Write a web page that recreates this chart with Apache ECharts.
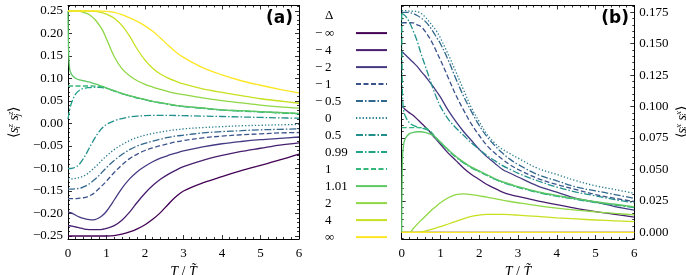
<!DOCTYPE html>
<html><head><meta charset="utf-8">
<script src="https://cdn.jsdelivr.net/npm/echarts@6/dist/echarts.min.js"></script>
<style>html,body{margin:0;padding:0;background:#fff}#c{width:686px;height:275px}</style>
</head><body><div id="c"></div>
<script>
// ---------- data ----------
const T = [0,0.02,0.05,0.1,0.2,0.3,0.4,0.5,0.6,0.7,0.8,0.9,1.0,1.2,1.4,1.6,1.8,2.0,2.2,2.4,2.6,2.8,3.0,3.5,4.0,4.5,5.0,5.5,6.0];
const deltaLabels = ['−∞','−4','−2','−1','−0.5','0','0.5','0.99','1','1.01','2','4','∞'];

// panel (a): <s^z_i s^z_j>
const zz_minf = [-.25,-.25,-.25,-.25,-.25,-.25,-.25,-.25,-.25,-.25,-.25,-.25,-.25,-.249,-.246,-.241,-.234,-.225,-.213,-.198,-.180,-.163,-.150,-.132,-.118,-.105,-.093,-.081,-.068];
const zz_m4 = [-.227,-.227,-.2272,-.228,-.230,-.232,-.234,-.2355,-.236,-.236,-.236,-.235,-.233,-.227,-.215,-.197,-.175,-.155,-.138,-.124,-.113,-.104,-.096,-.082,-.071,-.062,-.055,-.048,-.043];
const zz_m2 = [-.197,-.197,-.198,-.199,-.204,-.208,-.211,-.213,-.214,-.2135,-.210,-.204,-.195,-.170,-.144,-.123,-.107,-.095,-.085,-.077,-.071,-.066,-.061,-.052,-.045,-.040,-.036,-.033,-.030];
const zz_m1 = [-.167,-.167,-.167,-.167,-.167,-.166,-.165,-.163,-.159,-.153,-.145,-.137,-.128,-.109,-.092,-.078,-.068,-.060,-.054,-.049,-.045,-.041,-.038,-.032,-.028,-.025,-.023,-.021,-.020];
const zz_m05 = [-.146,-.146,-.146,-.146,-.145,-.144,-.141,-.137,-.131,-.124,-.116,-.107,-.098,-.082,-.069,-.058,-.050,-.044,-.039,-.035,-.031,-.028,-.026,-.021,-.018,-.016,-.014,-.013,-.012];
const zz_0 = [-.123,-.123,-.123,-.123,-.122,-.120,-.117,-.112,-.105,-.097,-.089,-.080,-.072,-.058,-.047,-.038,-.031,-.026,-.022,-.019,-.016,-.014,-.012,-.009,-.007,-.005,-.004,-.003,-.002];
const zz_05 = [-.100,-.100,-.100,-.0995,-.097,-.090,-.078,-.063,-.047,-.032,-.019,-.009,-.002,.006,.011,.0145,.0165,.0175,.018,.018,.018,.0178,.0175,.0165,.0155,.0145,.0135,.0125,.0118];
const zz_099 = [.010,.020,.033,.048,.066,.074,.078,.0795,.080,.0805,.0805,.080,.0781,.0721,.0661,.0611,.0566,.0526,.0486,.0456,.0426,.0396,.0376,.0336,.0296,.0276,.0256,.0236,.0216];
const zz_1 = [.0833,.0833,.0833,.0833,.0833,.0833,.0833,.0833,.0833,.0832,.083,.0813,.0785,.0725,.0665,.0615,.057,.053,.049,.046,.043,.040,.038,.034,.030,.028,.026,.024,.022];
const zz_101 = [.25,.15,.118,.108,.100,.097,.095,.093,.091,.088,.0855,.0825,.0789,.0729,.0669,.0619,.0574,.0534,.0494,.0464,.0434,.0404,.0384,.0344,.0304,.0284,.0264,.0244,.0224];
const zz_2 = [.25,.25,.25,.25,.2495,.249,.247,.244,.239,.231,.220,.207,.188,.149,.122,.106,.095,.087,.081,.076,.071,.067,.064,.057,.051,.046,.041,.037,.034];
const zz_4 = [.25,.25,.25,.25,.25,.25,.25,.25,.2495,.249,.248,.246,.243,.234,.218,.194,.165,.141,.123,.110,.101,.094,.088,.077,.069,.062,.055,.050,.045];
const zz_inf = [.25,.25,.25,.25,.25,.25,.25,.25,.25,.25,.25,.2495,.249,.247,.242,.235,.227,.217,.205,.190,.174,.159,.147,.124,.108,.095,.085,.076,.068];

// panel (b): <s^x_i s^x_j>
const xx_minf = [0,0,0,0,0,0,0,0,0,0,0,0,0,0,0,0,0,0,0,0,0,0,0,0,0,0,0,0,0];
const xx_m4 = [.1005,.1,.099,.0975,.095,.093,.090,.087,.084,.081,.077,.0735,.070,.063,.057,.051,.046,.042,.038,.035,.032,.030,.0285,.025,.022,.019,.0165,.0143,.012];
const xx_m2 = [.1437,.1432,.1425,.141,.138,.135,.132,.128,.1245,.1205,.1165,.112,.1075,.097,.088,.080,.073,.066,.060,.055,.050,.047,.044,.037,.032,.027,.024,.0205,.0177];
const xx_m1 = [.1667,.1667,.1667,.1667,.1667,.1665,.165,.1636,.160,.1555,.150,.1435,.137,.123,.109,.097,.086,.077,.069,.063,.058,.0535,.050,.043,.038,.034,.030,.027,.0245];
const xx_m05 = [.175,.175,.175,.175,.1748,.174,.1725,.1705,.168,.1645,.160,.155,.150,.137,.122,.108,.096,.085,.076,.069,.063,.058,.054,.046,.041,.036,.033,.030,.027];
const xx_0 = [.1763,.1763,.1763,.1763,.176,.1758,.1755,.174,.1715,.168,.164,.160,.1545,.1415,.1275,.113,.099,.088,.078,.071,.066,.0625,.059,.051,.046,.041,.037,.034,.031];
const xx_05 = [.174,.1738,.1732,.172,.167,.160,.152,.142,.133,.124,.115,.107,.100,.090,.083,.077,.071,.066,.061,.057,.053,.050,.047,.041,.036,.032,.029,.026,.0235];
const xx_099 = [.174,.11,.097,.092,.087,.085,.0838,.083,.0822,.0808,.078,.0742,.0712,.0652,.0597,.0552,.0512,.0482,.0452,.0422,.0397,.0377,.0357,.0317,.0287,.0262,.0237,.0217,.0197];
const xx_1 = [.0833,.0833,.0833,.0833,.0833,.0833,.0833,.0833,.083,.0815,.0785,.0745,.0715,.0655,.060,.0555,.0515,.0485,.0455,.0425,.040,.038,.036,.032,.029,.0265,.024,.022,.020];
const xx_101 = [0,.058,.070,.075,.0785,.0795,.080,.080,.0795,.0785,.0772,.0748,.0718,.0658,.0603,.0558,.0518,.0488,.0458,.0428,.0403,.0383,.0363,.0323,.0293,.0268,.0243,.0223,.0203];
const xx_2 = [0,0,0,0,0,.003,.0065,.0095,.0125,.0155,.0185,.021,.0235,.0275,.030,.0305,.030,.029,.028,.0268,.0256,.0245,.0235,.0212,.0192,.0176,.0163,.015,.0139];
const xx_4 = [0,0,0,0,0,0,0,.0004,.001,.0018,.0027,.0036,.0046,.0066,.0087,.0108,.0126,.0137,.0142,.0143,.0142,.014,.0136,.0126,.0115,.0106,.0098,.0091,.0085];
const xx_inf = [0,0,0,0,0,0,0,0,0,0,0,0,0,0,0,0,0,0,0,0,0,0,0,0,0,0,0,0,0];

const xTicks = [0,1,2,3,4,5,6];
const yTicksA = [-0.25,-0.20,-0.15,-0.10,-0.05,0,0.05,0.10,0.15,0.20,0.25];
const yTicksB = [0,0.025,0.05,0.075,0.1,0.125,0.15,0.175];

// ---------- styles ----------
const colors = ['#440154','#481F70','#443A83','#3B528B','#31688E','#287C8E','#21908C','#20A486','#35B779','#5DC863','#8FD744','#C7E020','#FDE725'];
const DASH = [5,2.5], DASHDOT = [7,2,1.5,2], DOT = [1.3,2];
const dashes = ['solid','solid','solid',DASH,DASHDOT,DOT,DASHDOT,DASHDOT,DASH,'solid','solid','solid','solid'];
const zzData = [zz_minf,zz_m4,zz_m2,zz_m1,zz_m05,zz_0,zz_05,zz_099,zz_1,zz_101,zz_2,zz_4,zz_inf];
const xxData = [xx_minf,xx_m4,xx_m2,xx_m1,xx_m05,xx_0,xx_05,xx_099,xx_1,xx_101,xx_2,xx_4,xx_inf];

const FONT = 'Liberation Serif';
const A = {min:-0.25667, max:0.26222};
const B = {min:-0.00533, max:0.18041};
function fmt(v,d){ return v.toFixed(d).replace('-','−'); }
function minorList(lo,hi,step){ const r=[]; for(let k=Math.ceil(lo/step-1e-9); k*step<=hi+1e-9; k++) r.push(+(k*step).toFixed(6)); return r; }

const labelStyle = {fontFamily:FONT, fontSize:13, color:'#000'};
const nameRich = {
  n:{fontFamily:FONT, fontSize:14, color:'#000', lineHeight:16},
  s:{fontFamily:FONT, fontStyle:'italic', fontSize:14, color:'#000', lineHeight:16},
  sup:{fontFamily:FONT, fontStyle:'italic', fontSize:9, color:'#000', verticalAlign:'top', lineHeight:9},
  sub0:{fontFamily:FONT, fontStyle:'italic', fontSize:9, color:'#000', verticalAlign:'bottom', lineHeight:9, width:0.01, align:'left'}
};
function corrName(c){ return '{n|⟨}{s|s}{sub0|i}{sup|'+c+'}{s| s}{sub0|j}{sup|'+c+'}{n|⟩}'; }

function xAxes(grid){
  const base = {gridIndex:grid, type:'value', min:0, max:6, interval:1,
    splitLine:{show:false},
    axisLine:{show:true, onZero:false, lineStyle:{color:'#000', width:1}},
    axisTick:{show:true, inside:true, length:4, lineStyle:{color:'#000', width:0.8}},
    minorTick:{show:true, splitNumber:5, length:2, lineStyle:{color:'#000', width:0.8}}};
  return [
    Object.assign({}, base, {position:'bottom',
      axisLabel:Object.assign({show:true, margin:8}, labelStyle),
      name:'{s|T} / {s|T\u0303}', nameLocation:'middle', nameGap:24,
      nameTextStyle:{rich:{s:{fontFamily:FONT, fontStyle:'italic', fontSize:14, color:'#000'}}, fontFamily:FONT, fontSize:14, color:'#000'}}),
    Object.assign({}, base, {position:'top', axisLabel:{show:false}})
  ];
}
function yAxes(grid, rng, major, minorStep, labelSide, dec, nameTxt, nameGap){
  const minor = minorList(rng.min, rng.max, minorStep).filter(v => !major.some(m => Math.abs(m-v)<1e-9));
  const arr = [];
  ['left','right'].forEach(pos => {
    const ax = {gridIndex:grid, type:'value', min:rng.min, max:rng.max, position:pos,
      splitLine:{show:false},
      axisLine:{show:true, onZero:false, lineStyle:{color:'#000', width:1}},
      axisTick:{show:true, inside:true, length:4, customValues:major, lineStyle:{color:'#000', width:0.8}},
      axisLabel:{show:false}};
    if (pos === labelSide){
      ax.axisLabel = Object.assign({show:true, customValues:major, margin:5, formatter:v=>fmt(v,dec)}, labelStyle);
      ax.name = nameTxt; ax.nameLocation = 'middle'; ax.nameRotate = 90; ax.nameGap = nameGap;
      ax.nameTextStyle = {rich:nameRich};
    }
    arr.push(ax);
    arr.push({gridIndex:grid, type:'value', min:rng.min, max:rng.max, position:pos,
      splitLine:{show:false}, axisLine:{show:false, onZero:false}, axisLabel:{show:false},
      axisTick:{show:true, inside:true, length:2, customValues:minor, lineStyle:{color:'#000', width:0.8}}});
  });
  return arr;
}

const series = [];
function addSeries(dataArr, xi, yi){
  dataArr.forEach((vals,i) => {
    series.push({type:'line', name:deltaLabels[i], xAxisIndex:xi, yAxisIndex:yi,
      data:T.map((t,k)=>[t, vals[k]]), symbol:'none', showSymbol:false,
      smooth:0.35, clip:true,
      lineStyle:{color:colors[i], width:1.3, type:dashes[i]},
      itemStyle:{color:colors[i]}, emphasis:{disabled:true}});
  });
}
addSeries(zzData, 0, 0);
addSeries(xxData, 2, 4);

const richTok = {fontFamily:FONT, fontSize:13, color:'#000', lineHeight:14, align:'left'};
const option = {
  animation:false,
  backgroundColor:'#fff',
  grid:[
    {left:68, top:5.5, width:231, height:233.5, outerBoundsMode:'none', containLabel:false},
    {left:401.7, top:5.5, width:232.6, height:233.5, outerBoundsMode:'none', containLabel:false}
  ],
  xAxis:[...xAxes(0), ...xAxes(1)],
  yAxis:[...yAxes(0, A, yTicksA, 0.01, 'left', 2, corrName('z'), 46),
         ...yAxes(1, B, yTicksB, 0.005, 'right', 3, corrName('x'), 40)],
  legend:{data:deltaLabels, orient:'vertical', left:315, top:26.6, padding:0, align:'right',
    itemWidth:31, itemHeight:14, itemGap:4, selectedMode:false,
    itemStyle:{opacity:0, borderWidth:0},
    formatter:name => name.startsWith('−') ? '{m|−}{v|'+name.slice(1)+'}' : '{m| }{v|'+name+'}',
    textStyle:{fontFamily:FONT, fontSize:13, color:'#000',
      rich:{m:Object.assign({width:10}, richTok), v:Object.assign({width:26}, richTok)}}},
  graphic:[
    {type:'text', left:325, top:9, style:{text:'Δ', font:'13px "Liberation Serif"', fill:'#000'}},
    {type:'text', right:393, top:10, style:{text:'(a)', font:'bold 17px "DejaVu Sans"', fill:'#000'}},
    {type:'text', right:57, top:10, style:{text:'(b)', font:'bold 17px "DejaVu Sans"', fill:'#000'}}
  ],
  series
};
const chart = echarts.init(document.getElementById('c'), null, {renderer:'canvas'});
chart.setOption(option);
</script></body></html>
